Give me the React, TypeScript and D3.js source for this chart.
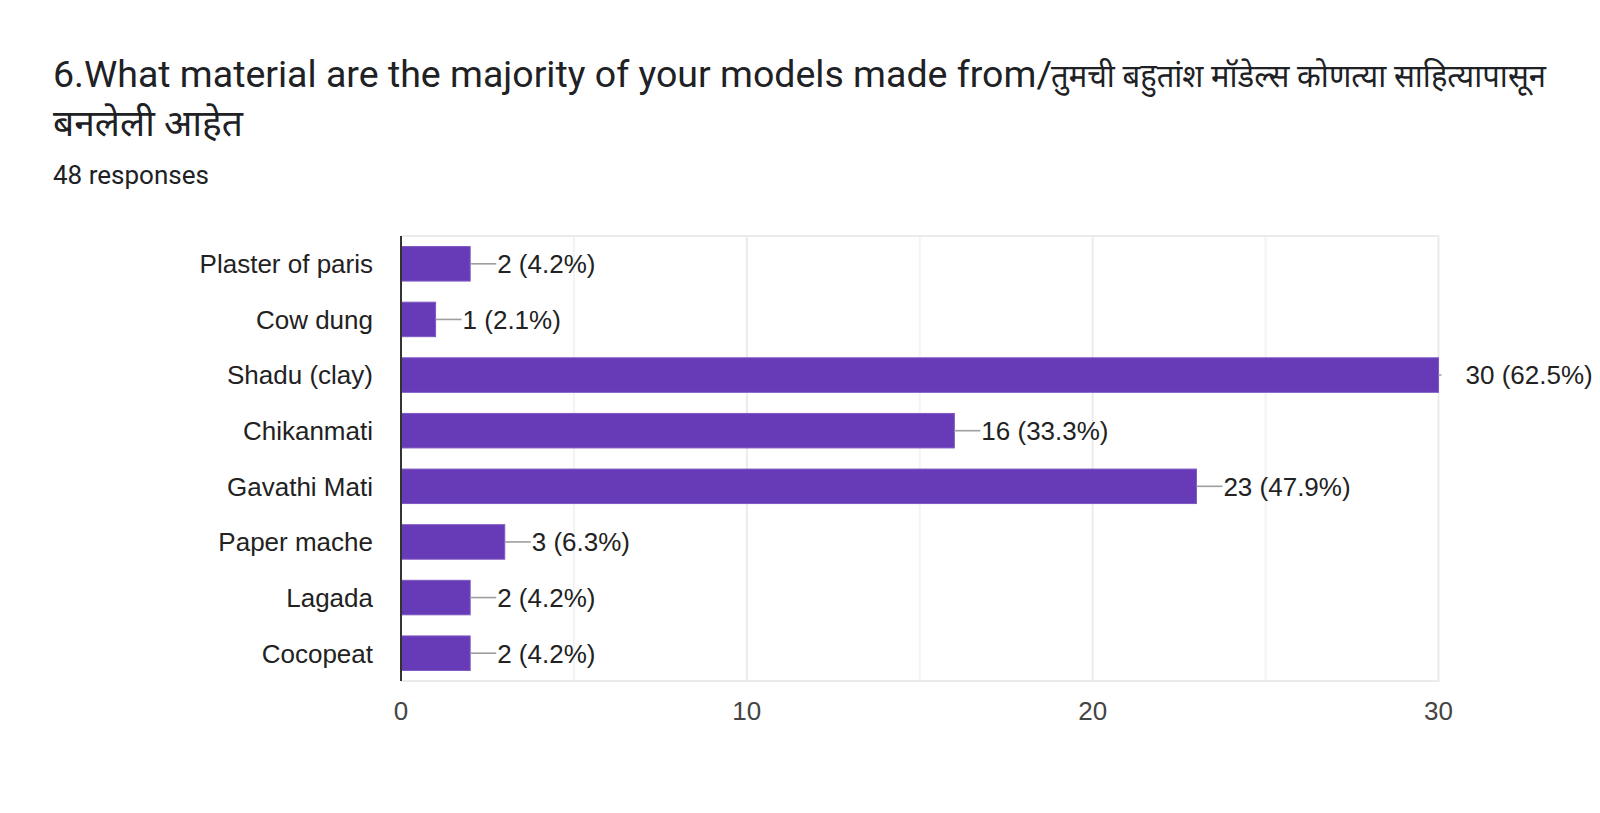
import React from "react";
import * as d3 from "d3";

const titleLatin = "6.What material are the majority of your models made from/";
const titleDeva = "तुमची बहुतांश मॉडेल्स कोणत्या साहित्यापासून";
const titleLine2 = "बनलेली आहेत";
const subtitle = "48 responses";

const categories = [
  "Plaster of paris",
  "Cow dung",
  "Shadu (clay)",
  "Chikanmati",
  "Gavathi Mati",
  "Paper mache",
  "Lagada",
  "Cocopeat",
];
const counts = [2, 1, 30, 16, 23, 3, 2, 2];
const percents = ["4.2%", "2.1%", "62.5%", "33.3%", "47.9%", "6.3%", "4.2%", "4.2%"];
const majorTicks = [0, 10, 20, 30];
const minorTicks = [5, 15, 25];

const W = 1600;
const H = 813;
const left = 401;
const right = 1438.5;
const top = 236;
const bottom = 681;

export default function App() {
  const x = d3.scaleLinear().domain([0, 30]).range([left, right]);
  const y = d3.scaleBand().domain(categories).range([top, bottom]).paddingInner(0.38).paddingOuter(0.19);
  const labelFont = "Arial, 'Liberation Sans', sans-serif";
  const titleFont = "Roboto, 'Noto Sans', 'Noto Sans Devanagari', sans-serif";
  return (
    <svg width={W} height={H} style={{ position: "absolute", left: 0, top: 0, background: "#fff" }}>
      <defs>
        <clipPath id="plotclip">
          <rect x={0} y={0} width={right + 3} height={H} />
        </clipPath>
      </defs>
      <text x={53} y={87} fontFamily={titleFont} fontSize={37.5} fill="#202124">{titleLatin}</text>
      <text x={1051} y={87} fontFamily={titleFont} fontSize={32.5} fill="#202124" textLength={495} lengthAdjust="spacingAndGlyphs">
        {titleDeva}
      </text>
      <text x={53} y={136} fontFamily={titleFont} fontSize={36} fill="#202124" textLength={190} lengthAdjust="spacingAndGlyphs">
        {titleLine2}
      </text>
      <text x={53} y={184} fontFamily={titleFont} fontSize={26} fill="#202124">{subtitle}</text>

      {/* gridlines */}
      {minorTicks.map((t) => (
        <line key={"m" + t} x1={x(t)} x2={x(t)} y1={top} y2={bottom} stroke="#f3f3f3" strokeWidth={2} />
      ))}
      {majorTicks.slice(1).map((t) => (
        <line key={"g" + t} x1={x(t)} x2={x(t)} y1={top} y2={bottom} stroke="#ebebeb" strokeWidth={2} />
      ))}
      <line x1={left} x2={x(30) + 1} y1={top} y2={top} stroke="#ebebeb" strokeWidth={2} />
      <line x1={left} x2={x(30) + 1} y1={bottom} y2={bottom} stroke="#ebebeb" strokeWidth={2} />

      {/* bars */}
      {categories.map((c, i) => {
        const yy = y(c)!;
        const bw = y.bandwidth();
        const xe = x(counts[i]);
        const cy = yy + bw / 2;
        return (
          <g key={c}>
            <rect x={left} y={yy} width={xe - left} height={bw} fill="#673ab7" stroke="#7e57c2" strokeWidth={1} />
            <line x1={xe} x2={xe + 26} y1={cy} y2={cy} stroke="#9e9e9e" strokeWidth={1.6} clipPath="url(#plotclip)" />
            <text x={xe + 27} y={cy} dy="0.36em" fontFamily={labelFont} fontSize={26} fill="#222">
              {`${counts[i]} (${percents[i]})`}
            </text>
            <text x={left - 28} y={cy} dy="0.36em" textAnchor="end" fontFamily={labelFont} fontSize={26} fill="#222">
              {c}
            </text>
          </g>
        );
      })}

      {/* axis */}
      <line x1={left} x2={left} y1={top} y2={bottom} stroke="#333" strokeWidth={2} />
      {majorTicks.map((t) => (
        <text key={"t" + t} x={x(t)} y={711} dy="0.36em" textAnchor="middle" fontFamily={labelFont} fontSize={26} fill="#444">
          {t}
        </text>
      ))}
    </svg>
  );
}
